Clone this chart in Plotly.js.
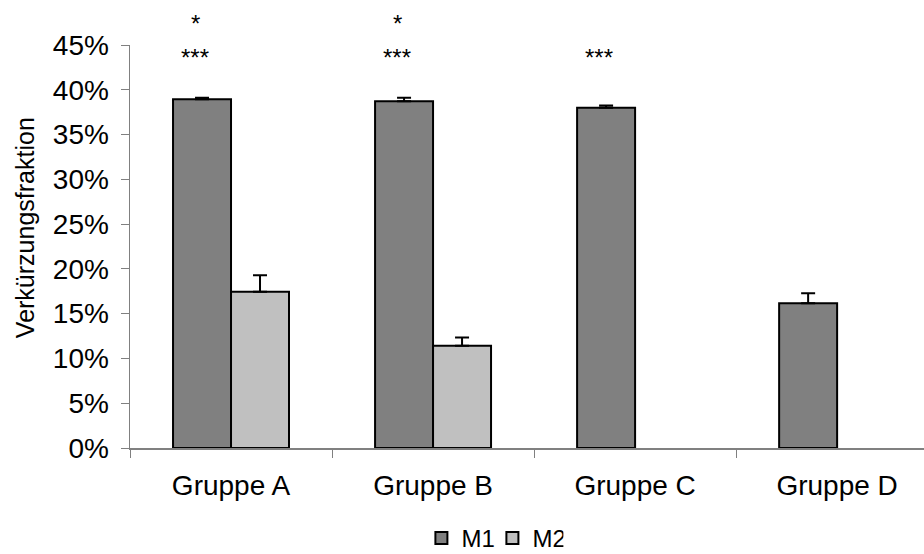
<!DOCTYPE html>
<html>
<head>
<meta charset="utf-8">
<script src="https://cdn.plot.ly/plotly-3.0.1.min.js"></script>
<style>html,body{margin:0;padding:0;background:#fff;}#chart{width:924px;height:554px;}</style>
</head>
<body>
<div id="chart"></div>
<script>
const categories = ["Gruppe A", "Gruppe B", "Gruppe C", "Gruppe D"];
const m1Values = [0.3895, 0.3873, 0.3800, 0.1615];
const m1Errors = [0.0015, 0.0037, 0.0025, 0.0112];
const m2Values = [0.1744, 0.1142, null, null];
const m2Errors = [0.0186, 0.0093, null, null];
const sigCategories = ["Gruppe A", "Gruppe A", "Gruppe B", "Gruppe B", "Gruppe C"];
const sigLabels = ["*", "***", "*", "***", "***"];
const sigLevels = [0.4735, 0.436, 0.4735, 0.436, 0.436];
const yTickValues = [0, 0.05, 0.10, 0.15, 0.20, 0.25, 0.30, 0.35, 0.40, 0.45];
const yTickLabels = ["0%", "5%", "10%", "15%", "20%", "25%", "30%", "35%", "40%", "45%"];

const FONT = "Liberation Sans, Arial, sans-serif";
const Y_MAX = 0.45;

const traces = [
  {
    type: "bar", name: "M1", x: categories, y: m1Values,
    marker: {color: "#808080", line: {color: "#000000", width: 2}},
    error_y: {type: "data", symmetric: false, array: m1Errors, arrayminus: m1Errors.map(() => 0),
              color: "#000000", thickness: 2, width: 7}
  },
  {
    type: "bar", name: "M2", x: categories, y: m2Values,
    marker: {color: "#c0c0c0", line: {color: "#000000", width: 2}},
    error_y: {type: "data", symmetric: false, array: m2Errors, arrayminus: m2Errors.map(() => 0),
              color: "#000000", thickness: 2, width: 7}
  }
];

// significance marks: x on the category axis, y in paper units (may exceed the axis range)
const annotations = sigLabels.map((t, i) => ({
  x: sigCategories[i], y: sigLevels[i] / Y_MAX, xref: "x", yref: "paper",
  text: t, showarrow: false, xshift: -36, xanchor: "center", yanchor: "middle",
  font: {family: FONT, size: 24, color: "#000"}
}));
annotations.push({
  xref: "paper", yref: "paper", x: -0.132, y: 0.546, textangle: -90,
  text: "Verkürzungsfraktion", showarrow: false, xanchor: "center", yanchor: "middle",
  font: {family: FONT, size: 25, color: "#000"}
});

const layout = {
  width: 924, height: 554,
  margin: {l: 130, r: 0, t: 45, b: 106, autoexpand: false},
  paper_bgcolor: "#ffffff", plot_bgcolor: "#ffffff",
  font: {family: FONT, size: 24, color: "#000"},
  barmode: "group", bargap: 0.426, bargroupgap: 0,
  showlegend: true,
  legend: {orientation: "h", xref: "paper", yref: "paper",
           x: 0.367, xanchor: "left", y: -0.280, yanchor: "bottom",
           entrywidth: 26, entrywidthmode: "pixels",
           font: {family: FONT, size: 24, color: "#000"}, itemwidth: 30, tracegroupgap: 0},
  xaxis: {
    type: "category", range: [-0.5, 3.43], tickson: "boundaries",
    ticks: "outside", ticklen: 8, tickwidth: 1, tickcolor: "#808080",
    showline: true, linecolor: "#808080", linewidth: 1.5,
    showgrid: false, zeroline: false, ticklabelstandoff: 12,
    tickfont: {family: FONT, size: 28, color: "#000"}
  },
  yaxis: {
    range: [0, Y_MAX], tickvals: yTickValues, ticktext: yTickLabels,
    ticks: "outside", ticklen: 8, tickwidth: 1, tickcolor: "#808080",
    showline: true, linecolor: "#808080", linewidth: 1.5,
    showgrid: false, zeroline: false, ticklabelstandoff: 6,
    tickfont: {family: FONT, size: 28, color: "#000"}
  },
  annotations: annotations
};

Plotly.newPlot("chart", traces, layout, {displayModeBar: false, staticPlot: true});
</script>
</body>
</html>
